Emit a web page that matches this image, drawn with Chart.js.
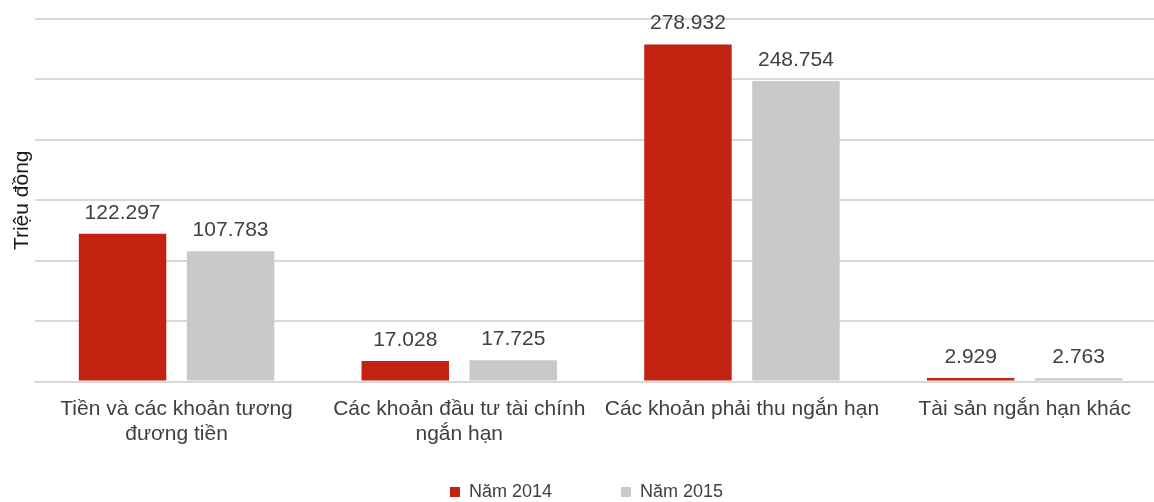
<!DOCTYPE html>
<html lang="vi">

<head>
    <meta charset="UTF-8">
    <title>Tài sản ngắn hạn</title>
    <style>
        html, body { margin: 0; padding: 0; background: #fff; overflow: hidden; }
        /* the plot in the original runs a little past the right edge */
        .chart-box { width: 1166px; height: 502px; }
    </style>
</head>

<body>
    <div class="chart-box">
        <canvas id="myChart"></canvas>
    </div>

    <script src="https://cdn.jsdelivr.net/npm/chart.js"></script>

    <script>
        // data (triệu đồng)
        const categories = [
            ['Tiền và các khoản tương', 'đương tiền'],
            ['Các khoản đầu tư tài chính', 'ngắn hạn'],
            'Các khoản phải thu ngắn hạn',
            'Tài sản ngắn hạn khác'
        ];
        const values2014 = [122297, 17028, 278932, 2929];
        const values2015 = [107783, 17725, 248754, 2763];
        const seriesNames = ['Năm 2014', 'Năm 2015'];

        const textColor = '#404040';
        const fontFamily = '"Liberation Sans", Arial, sans-serif';

        // draw value above each bar, e.g. 278.932
        const valueLabels = {
            id: 'valueLabels',
            afterDatasetsDraw(chart) {
                const ctx = chart.ctx;
                ctx.save();
                ctx.font = '21px ' + fontFamily;
                ctx.fillStyle = textColor;
                ctx.textAlign = 'center';
                ctx.textBaseline = 'alphabetic';
                chart.data.datasets.forEach((ds, i) => {
                    chart.getDatasetMeta(i).data.forEach((bar, j) => {
                        const txt = ds.data[j].toLocaleString('de-DE');
                        ctx.fillText(txt, bar.x, bar.y - 15);
                    });
                });
                ctx.restore();
            }
        };

        // legend padding is also used vertically, so keep the box short
        // and put the row where it sits in the picture
        const legendHeight = 40;
        const legendRowY = 483;
        const legendFix = {
            id: 'legendFix',
            beforeInit(chart) {
                const origFit = chart.legend.fit;
                chart.legend.fit = function () {
                    origFit.call(this);
                    this.height = legendHeight;
                };
            },
            afterLayout(chart) {
                chart.legend.top = legendRowY - chart.legend.options.labels.padding;
                // centre on the visible window, not the wider canvas
                chart.legend.left = 19;
                chart.legend.right = 1154;
            }
        };

        new Chart(document.getElementById('myChart'), {
            type: 'bar',
            data: {
                labels: categories,
                datasets: [{
                    label: seriesNames[0],
                    data: values2014,
                    backgroundColor: '#c42211',
                    categoryPercentage: 0.764,
                    barPercentage: 0.81
                }, {
                    label: seriesNames[1],
                    data: values2015,
                    backgroundColor: '#c9c9c9',
                    categoryPercentage: 0.764,
                    barPercentage: 0.81
                }]
            },
            options: {
                responsive: true,
                maintainAspectRatio: false,
                animation: false,
                layout: {
                    padding: { top: 19, right: 0, left: 8, bottom: 0 }
                },
                plugins: {
                    legend: {
                        position: 'bottom',
                        labels: {
                            boxWidth: 10,
                            boxHeight: 10,
                            padding: 69,
                            color: textColor,
                            font: { size: 18, family: fontFamily }
                        }
                    },
                    tooltip: { enabled: false }
                },
                scales: {
                    x: {
                        grid: { display: false, drawTicks: false },
                        border: { color: '#d9d9d9', width: 2 },
                        ticks: {
                            color: textColor,
                            maxRotation: 0,
                            padding: 15,
                            font: { size: 21, family: fontFamily }
                        }
                    },
                    y: {
                        min: 0,
                        max: 300000,
                        grid: { color: '#d9d9d9', lineWidth: 2, drawTicks: false },
                        border: { display: false },
                        ticks: { display: false, stepSize: 50000 },
                        title: {
                            display: true,
                            text: 'Triệu đồng',
                            color: '#1a1a1a',
                            padding: { top: 2, bottom: 0 },
                            font: { size: 21, family: fontFamily }
                        }
                    }
                }
            },
            plugins: [valueLabels, legendFix]
        });
    </script>
</body>

</html>
